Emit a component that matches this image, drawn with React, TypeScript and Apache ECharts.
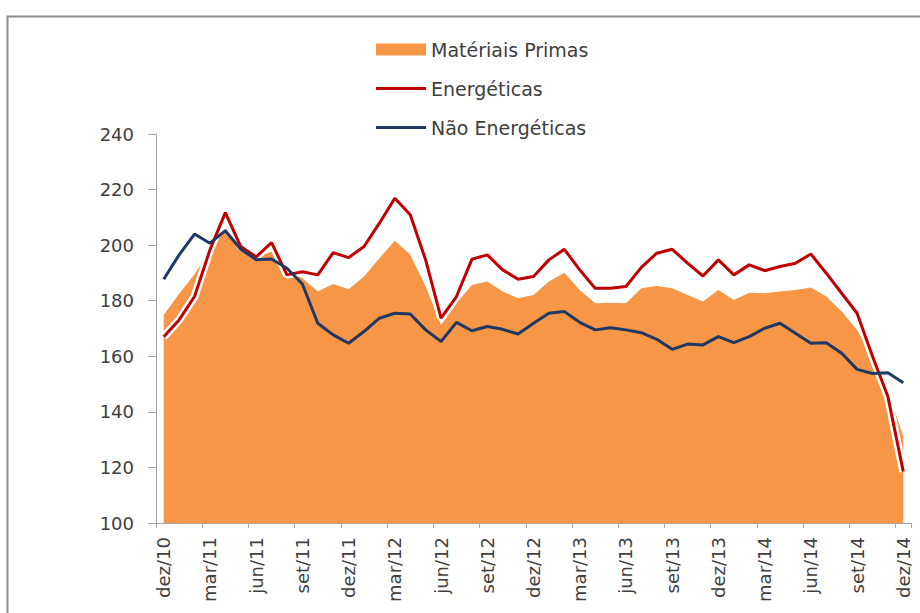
import React, { useEffect, useRef } from "react";
import * as echarts from "echarts";

const categories = [
  "dez/10", "jan/11", "fev/11", "mar/11", "abr/11", "mai/11", "jun/11", "jul/11", "ago/11", "set/11", "out/11", "nov/11",
  "dez/11", "jan/12", "fev/12", "mar/12", "abr/12", "mai/12", "jun/12", "jul/12", "ago/12", "set/12", "out/12", "nov/12",
  "dez/12", "jan/13", "fev/13", "mar/13", "abr/13", "mai/13", "jun/13", "jul/13", "ago/13", "set/13", "out/13", "nov/13",
  "dez/13", "jan/14", "fev/14", "mar/14", "abr/14", "mai/14", "jun/14", "jul/14", "ago/14", "set/14", "out/14", "nov/14",
  "dez/14",
];

const materiasPrimas = [
  174.9, 182.5, 189.5, 198, 206, 199, 195.8, 197.6, 191.1, 188.1, 183.3, 186.0,
  184.1, 188.7, 195.3, 201.6, 196.5, 185.1, 171.3, 179.1, 185.7, 186.9, 183.3, 180.9,
  182.1, 186.9, 190.1, 183.9, 179.1, 179.3, 179.1, 184.5, 185.3, 184.5, 182.1, 179.7,
  183.9, 180.3, 182.9, 182.7, 183.3, 183.9, 184.8, 181.5, 176.1, 169.5, 159.5, 148,
  131,
];

const energeticas = [
  167.0, 173.1, 181.5, 198.3, 211.7, 199.5, 195.8, 200.9, 189.3, 190.4, 189.3, 197.3,
  195.5, 199.5, 207.9, 216.9, 210.9, 194.7, 173.7, 181.5, 194.9, 196.5, 191.1, 187.7,
  188.7, 194.7, 198.5, 191.1, 184.5, 184.5, 185.1, 192.0, 197.1, 198.5, 193.5, 188.9,
  194.7, 189.3, 192.9, 190.8, 192.3, 193.5, 196.8, 189.9, 182.7, 175.5, 160, 145.5,
  118.5,
];

const naoEnergeticas = [
  187.7, 196.5, 204.0, 200.7, 205.2, 198.5, 194.7, 195.0, 191.7, 186.0, 171.9, 167.7,
  164.7, 168.9, 173.7, 175.5, 175.2, 169.5, 165.3, 172.2, 169.2, 170.7, 169.7, 168.0,
  171.9, 175.5, 176.1, 172.2, 169.5, 170.3, 169.5, 168.5, 166.1, 162.5, 164.4, 164.1,
  167.1, 164.9, 167.1, 170.1, 171.9, 168.3, 164.7, 164.9, 161.1, 155.3, 153.8, 154.1,
  150.5,
];

const seriesNames = ["Matériais Primas", "Energéticas", "Não Energéticas"];

const FONT = "DejaVu Sans";
const TEXT = "#404040";
const AXIS = "#A6A6A6";
const LINE_ICON = "path://M0,0 L50,0 L50,3 L0,3 Z";

export default function App() {
  const ref = useRef<HTMLDivElement>(null);

  useEffect(() => {
    if (!ref.current) return;
    const chart = echarts.init(ref.current, undefined, { renderer: "svg" });
    chart.setOption({
      animation: false,
      backgroundColor: "#ffffff",
      graphic: [
        {
          type: "rect",
          left: 5,
          top: 14,
          shape: { width: 1000, height: 700 },
          style: { fill: "none", stroke: "#8c8c8c", lineWidth: 2 },
          silent: true,
        },
      ],
      legend: {
        orient: "vertical",
        left: 376,
        top: 40,
        padding: 0,
        itemWidth: 50,
        itemHeight: 12,
        itemGap: 20,
        symbolKeepAspect: true,
        textStyle: { fontSize: 19, color: TEXT, fontFamily: FONT },
        data: [
          { name: seriesNames[0], icon: "rect" },
          { name: seriesNames[1], icon: LINE_ICON },
          { name: seriesNames[2], icon: LINE_ICON },
        ],
      },
      grid: { left: 156, right: 9, top: 134, bottom: 90, containLabel: false },
      xAxis: {
        type: "category",
        data: categories,
        boundaryGap: true,
        axisLine: { show: true, lineStyle: { color: AXIS, width: 1 } },
        axisTick: { show: true, interval: 2, length: 5, lineStyle: { color: AXIS } },
        axisLabel: {
          interval: 2,
          rotate: 90,
          margin: 14,
          fontSize: 18,
          color: TEXT,
          fontFamily: FONT,
        },
        splitLine: { show: false },
      },
      yAxis: {
        type: "value",
        min: 100,
        max: 240,
        interval: 20,
        axisLine: { show: true, lineStyle: { color: AXIS, width: 1 } },
        axisTick: { show: true, length: 8, lineStyle: { color: AXIS } },
        axisLabel: { margin: 22, fontSize: 18, color: TEXT, fontFamily: FONT },
        splitLine: { show: false },
      },
      series: [
        {
          name: seriesNames[0],
          type: "line",
          data: materiasPrimas,
          symbol: "none",
          lineStyle: { width: 0, color: "#F79646" },
          itemStyle: { color: "#F79646" },
          areaStyle: { color: "#F79646", opacity: 1, origin: "start" },
          z: 1,
        },
        {
          name: "halo",
          type: "line",
          data: energeticas,
          symbol: "none",
          silent: true,
          lineStyle: { width: 8, color: "#ffffff" },
          itemStyle: { color: "#ffffff" },
          z: 2,
        },
        {
          name: seriesNames[1],
          type: "line",
          data: energeticas,
          symbol: "none",
          lineStyle: { width: 3, color: "#C00000" },
          itemStyle: { color: "#C00000" },
          z: 3,
        },
        {
          name: seriesNames[2],
          type: "line",
          data: naoEnergeticas,
          symbol: "none",
          lineStyle: { width: 3, color: "#1F3864" },
          itemStyle: { color: "#1F3864" },
          z: 4,
        },
      ],
    });
    return () => chart.dispose();
  }, []);

  return (
    <div
      ref={ref}
      style={{ position: "fixed", left: 0, top: 0, width: 920, height: 613 }}
    />
  );
}
